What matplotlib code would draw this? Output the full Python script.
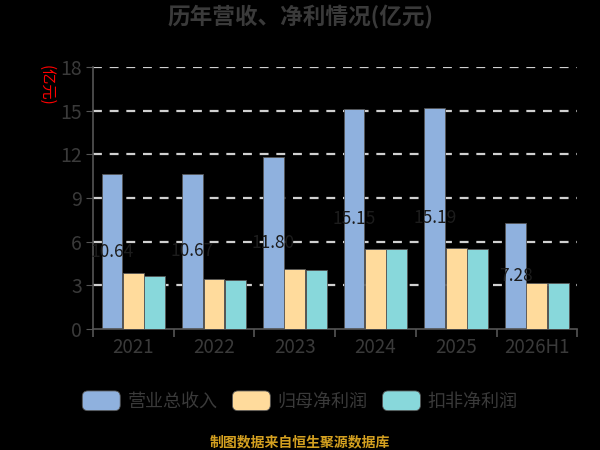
import matplotlib
matplotlib.use("Agg")
import matplotlib.pyplot as plt
import numpy as np
from matplotlib.patches import FancyBboxPatch, Patch
from matplotlib.legend_handler import HandlerPatch

plt.rcParams['font.family'] = ['Noto Sans CJK SC', 'DejaVu Sans']

categories = ["2021", "2022", "2023", "2024", "2025", "2026H1"]
revenue = [10.64, 10.67, 11.80, 15.15, 15.19, 7.28]
net_profit = [3.85, 3.43, 4.12, 5.49, 5.56, 3.18]
deducted_profit = [3.64, 3.39, 4.05, 5.49, 5.49, 3.14]
series_names = ["营业总收入", "归母净利润", "扣非净利润"]
yticks = [0, 3, 6, 9, 12, 15, 18]

colors = ["#8fb1de", "#ffdb9c", "#88d8db"]
text_c = "#3a3a3a"
bg = "#000000"

fig = plt.figure(figsize=(6, 4.5), dpi=100, facecolor=bg)
ax = fig.add_axes([0.155, 0.269, 0.807, 0.582], facecolor=bg)

x = np.arange(len(categories))
w = 0.265
ax.set_xlim(-0.5, len(categories) - 0.5)
ax.set_ylim(0, 18)

for yv in yticks[1:]:
    ax.axhline(yv, color="#d0d0d0", lw=1.6, ls=(0, (4, 3.5)), zorder=0)

all_series = [revenue, net_profit, deducted_profit]
for i, (vals, c, name) in enumerate(zip(all_series, colors, series_names)):
    xs = x + (i - 1) * w
    ax.bar(xs, vals, width=w * 0.97, color=c, edgecolor="#555555", linewidth=0.6,
           zorder=2 + 2 * i)
    if i == 0:
        for xi, v in zip(xs, vals):
            ax.text(xi, v / 2, f"{v:.2f}", ha="center", va="center", fontsize=12.5,
                    color="#1c1c1c", zorder=3)

for s in ["top", "right"]:
    ax.spines[s].set_visible(False)
ax.spines["left"].set_color("#555555")
ax.spines["bottom"].set_color("#555555")
ax.spines["left"].set_linewidth(1.2)
ax.spines["bottom"].set_linewidth(1.2)

ax.set_yticks(yticks)
ax.set_yticklabels([str(v) for v in yticks], fontsize=14, color=text_c)
ax.tick_params(axis="y", length=5, color="#555555", pad=3)

ax.set_xticks(x)
ax.set_xticklabels(categories, fontsize=13.5, color=text_c)
ax.tick_params(axis="x", length=0, pad=6)
ax.set_xticks(np.arange(-0.5, len(categories)), minor=True)
ax.tick_params(axis="x", which="minor", length=6, color="#555555", width=1.2)

fig.text(0.5, 0.962, "历年营收、净利情况(亿元)", ha="center", va="center",
         fontsize=16.3, fontweight="heavy", color=text_c)
fig.text(0.077, 0.81, "(亿元)", rotation=270, ha="center", va="center",
         fontsize=11, color="#ff0000")
fig.text(0.5, 0.018, "制图数据来自恒生聚源数据库", ha="center", va="center",
         fontsize=10, fontweight="bold", color="#d4a020")


class HandlerRound(HandlerPatch):
    def create_artists(self, legend, orig_handle, xdescent, ydescent, width, height, fontsize, trans):
        p = FancyBboxPatch((-xdescent, -ydescent - height * 0.11), width, height * 1.22,
                           boxstyle="round,pad=0,rounding_size=4",
                           facecolor=orig_handle.get_facecolor(), edgecolor="#555555",
                           linewidth=0.6, transform=trans)
        return [p]


handles = [Patch(facecolor=c) for c in colors]
leg = fig.legend(handles, series_names, loc="center", bbox_to_anchor=(0.5, 0.107), ncol=3,
                 frameon=False, fontsize=13, handlelength=2.1, handleheight=1.0,
                 columnspacing=0.83, handletextpad=0.4,
                 handler_map={Patch: HandlerRound()})
for t in leg.get_texts():
    t.set_color(text_c)

fig.savefig("out.png", dpi=100, facecolor=bg)
